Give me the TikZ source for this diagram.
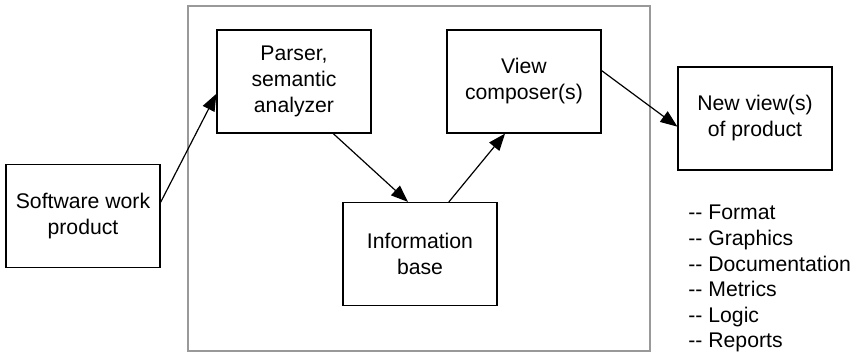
\documentclass[tikz,border=0pt]{standalone}
\usepackage{fontspec}
\setmainfont{Liberation Sans}
\usetikzlibrary{positioning, arrows.meta}

\begin{document}
\begin{tikzpicture}[
        x=0.5pt, y=-0.5pt,
        base/.style={draw, line width=0.6pt, align=center, font=\fontsize{10.6}{13}\selectfont, inner sep=3pt},
        unit/.style={base, minimum width=77pt, minimum height=51.5pt},
        tool/.style={draw=black!40, line width=1.1pt, minimum width=231pt, minimum height=172.5pt, inner sep=0pt},
        notes/.style={align=left, font=\fontsize{10.6}{12.8}\selectfont, inner sep=0pt, anchor=north west},
        arr/.style={-{Triangle[length=8.5pt, width=6.5pt]}, line width=0.6pt}
    ]
    \useasboundingbox (0,0) rectangle (855,353);
    \node[tool] (box) at (419,178.5) {};

    \node[unit] (sw)      at (83,216)    {Software work\\product};
    \node[unit] (parser)  at (294,81.5)  {Parser,\\semantic\\analyzer};
    \node[unit] (info)    at (420,254)   {Information\\base};
    \node[unit] (view)    at (524,81.5)  {View\\composer(s)};
    \node[unit] (newview) at (755,118.5) {New view(s)\\of product};

    \node[notes] (list) at (688,205) {{-}{-} Format\\{-}{-} Graphics\\{-}{-} Documentation\\{-}{-} Metrics\\{-}{-} Logic\\{-}{-} Reports};

    \draw[arr] (sw.10) -- (parser.189);
    \draw[arr] (parser.307) -- (info.103);
    \draw[arr] (info.61) -- (view.250);
    \draw[arr] (view.8) -- (newview.186);
\end{tikzpicture}
\end{document}
